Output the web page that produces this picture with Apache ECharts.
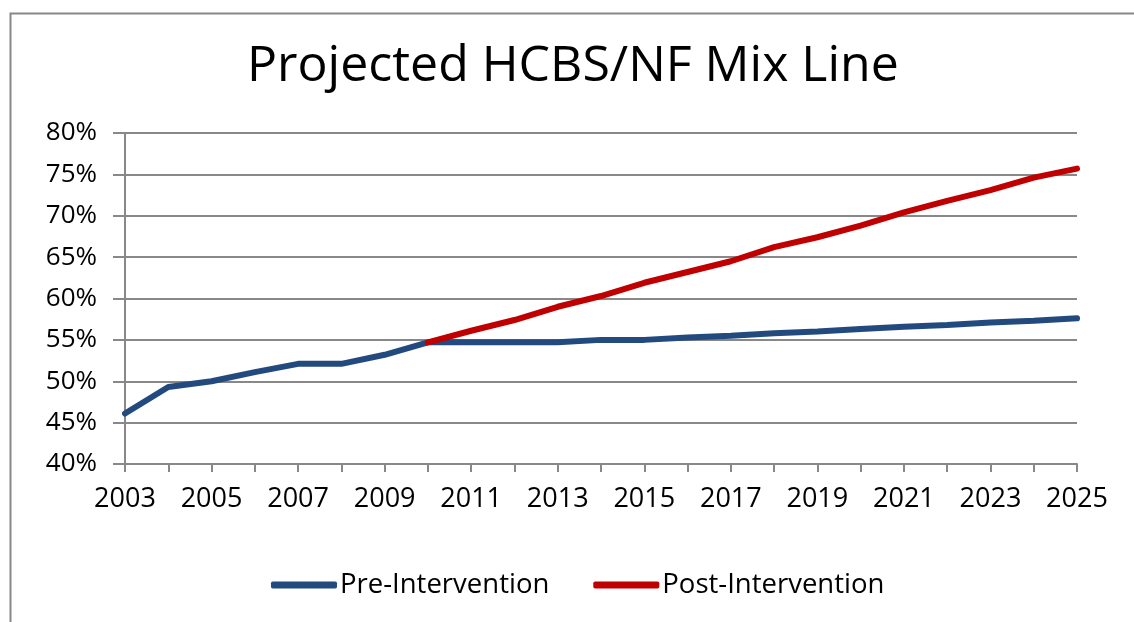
<!DOCTYPE html>
<html>
<head>
<meta charset="utf-8">
<script src="https://cdn.jsdelivr.net/npm/echarts@6/dist/echarts.min.js"></script>
<style>
html,body{margin:0;padding:0;background:#fff;}
#chart{width:1134px;height:622px;}
</style>
</head>
<body>
<div id="chart"></div>
<script>
const years = ['2003','2004','2005','2006','2007','2008','2009','2010','2011','2012','2013','2014','2015','2016','2017','2018','2019','2020','2021','2022','2023','2024','2025'];
const preIntervention = [46.1,49.3,50.0,51.1,52.1,52.1,53.2,54.7,54.7,54.7,54.7,55.0,55.0,55.3,55.5,55.8,56.0,56.3,56.6,56.8,57.1,57.3,57.6];
const postIntervention = [null,null,null,null,null,null,null,54.7,56.1,57.4,59.0,60.3,61.9,63.2,64.5,66.2,67.4,68.8,70.4,71.8,73.1,74.6,75.7];
const seriesNames = ['Pre-Intervention','Post-Intervention'];
const titleText = 'Projected HCBS/NF Mix Line';

const FONT = '"Open Sans", sans-serif';
const chart = echarts.init(document.getElementById('chart'));
chart.setOption({
  animation: false,
  backgroundColor: '#fff',
  graphic: [{
    type: 'rect', left: 8, top: 11, z: -1,
    shape: { width: 1300, height: 700 },
    style: { fill: 'none', stroke: '#888', lineWidth: 2 }
  }],
  title: {
    text: titleText, left: 242, top: 37,
    textStyle: { fontFamily: FONT, fontSize: 50, fontWeight: 'normal', color: '#000' }
  },
  grid: { left: 125, right: 57, top: 133, bottom: 158, containLabel: false },
  legend: {
    top: 566, left: 266, itemWidth: 66, itemHeight: 7, itemGap: 44,
    icon: 'roundRect',
    textStyle: { fontFamily: FONT, fontSize: 27.5, color: '#000', padding: [0, 0, 0, -2] },
    data: seriesNames
  },
  xAxis: {
    type: 'category', data: years, boundaryGap: false,
    axisLine: { lineStyle: { color: '#888', width: 2 } },
    axisTick: { show: true, interval: 0, length: 8, lineStyle: { color: '#888', width: 2 } },
    axisLabel: { interval: 1, margin: 22, fontFamily: FONT, fontSize: 27, color: '#000' },
    splitLine: { show: false }
  },
  yAxis: {
    type: 'value', min: 40, max: 80, interval: 5,
    axisLine: { show: true, lineStyle: { color: '#888', width: 2 } },
    axisTick: { show: true, length: 12, lineStyle: { color: '#888', width: 2 } },
    axisLabel: { formatter: '{value}%', margin: 28, fontFamily: FONT, fontSize: 26, color: '#000' },
    splitLine: { show: true, lineStyle: { color: '#888', width: 2 } }
  },
  series: [
    {
      name: seriesNames[0], type: 'line', data: preIntervention, symbol: 'none',
      lineStyle: { color: '#234A7E', width: 6, cap: 'round' }, itemStyle: { color: '#234A7E' }
    },
    {
      name: seriesNames[1], type: 'line', data: postIntervention, symbol: 'none',
      lineStyle: { color: '#C00000', width: 6, cap: 'round' }, itemStyle: { color: '#C00000' }
    }
  ]
});
</script>
</body>
</html>
